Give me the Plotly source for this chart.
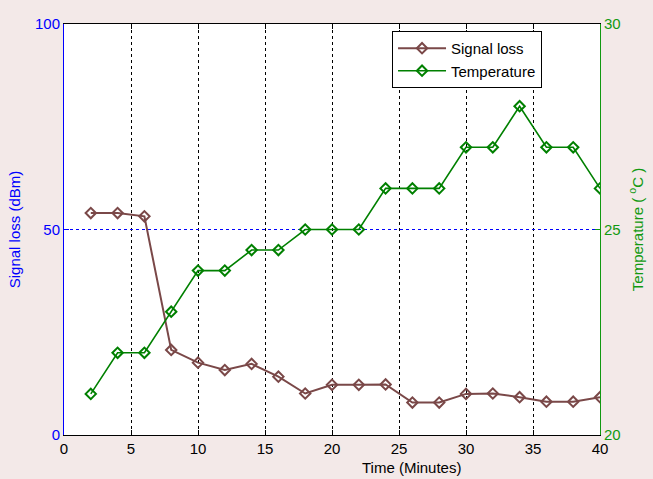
import plotly.graph_objects as go

# Sampling times (minutes)
time_min = [2, 4, 6, 8, 10, 12, 14, 16, 18, 20, 22, 24, 26, 28, 30, 32, 34, 36, 38, 40]

# Signal loss (dBm), left axis
signal_loss = [54.0, 54.0, 53.2, 20.7, 17.6, 15.8, 17.3, 14.2, 10.1, 12.2,
               12.2, 12.3, 7.9, 7.9, 10.0, 10.1, 9.2, 8.1, 8.1, 9.2]

# Temperature (deg C), right axis
temperature = [21, 22, 22, 23, 24, 24, 24.5, 24.5, 25, 25,
               25, 26, 26, 26, 27, 27, 28, 27, 27, 26]

x_ticks = [0, 5, 10, 15, 20, 25, 30, 35, 40]
left_ticks = [0, 50, 100]
right_ticks = [20, 25, 30]

LOSS_COLOR = "#7a4848"
TEMP_COLOR = "#008000"
LEFT_AXIS = "#0000ff"
RIGHT_AXIS = "#119911"
FONT = "Liberation Sans, Arial, sans-serif"
FS = 15

fig = go.Figure()

fig.add_trace(go.Scatter(
    x=time_min, y=signal_loss, name="Signal loss",
    mode="lines+markers",
    line=dict(color=LOSS_COLOR, width=2),
    marker=dict(symbol="diamond-open", size=8, color=LOSS_COLOR,
                line=dict(width=2, color=LOSS_COLOR)),
    yaxis="y",
))

fig.add_trace(go.Scatter(
    x=time_min, y=temperature, name="Temperature",
    mode="lines+markers",
    line=dict(color=TEMP_COLOR, width=1.6),
    marker=dict(symbol="diamond-open", size=8, color=TEMP_COLOR,
                line=dict(width=2, color=TEMP_COLOR)),
    yaxis="y2",
))

fig.update_layout(
    width=653, height=479,
    margin=dict(l=64, r=53, t=24, b=44),
    paper_bgcolor="#f3e9e8",
    plot_bgcolor="#ffffff",
    font=dict(family=FONT, size=FS, color="#000000"),
    showlegend=True,
    legend=dict(
        x=0.612, y=0.983, xanchor="left", yanchor="top",
        bgcolor="#ffffff", bordercolor="#000000", borderwidth=1,
        font=dict(family=FONT, size=FS, color="#000000"),
        tracegroupgap=0, itemwidth=48,
    ),
    xaxis=dict(
        range=[0, 40], tickvals=x_ticks, automargin=False,
        showline=True, linecolor="#000000", linewidth=1, mirror="ticks",
        ticks="inside", ticklen=5, tickcolor="#000000",
        showgrid=True, gridcolor="#000000", gridwidth=1, griddash="3px,3px",
        zeroline=False,
        tickfont=dict(family=FONT, size=FS, color="#000000"),
    ),
    yaxis=dict(
        range=[0, 100], tickvals=left_ticks, automargin=False,
        showline=True, linecolor=LEFT_AXIS, linewidth=1,
        ticks="inside", ticklen=5, tickcolor=LEFT_AXIS,
        showgrid=True, gridcolor=LEFT_AXIS, gridwidth=1, griddash="3px,3px",
        zeroline=False,
        tickfont=dict(family=FONT, size=FS, color=LEFT_AXIS),
        title=dict(text="Signal loss (dBm)", standoff=10,
                   font=dict(family=FONT, size=FS, color=LEFT_AXIS)),
    ),
    yaxis2=dict(
        range=[20, 30], tickvals=right_ticks, automargin=False,
        overlaying="y", side="right", anchor="x",
        showline=True, linecolor=RIGHT_AXIS, linewidth=1,
        ticks="inside", ticklen=5, tickcolor=RIGHT_AXIS,
        showgrid=False, zeroline=False,
        tickfont=dict(family=FONT, size=FS, color=RIGHT_AXIS),
        title=dict(text="Temperature ( <sup>o</sup>C )", standoff=12,
                   font=dict(family=FONT, size=FS, color=RIGHT_AXIS)),
    ),
    annotations=[dict(
        text="Time (Minutes)", xref="paper", yref="paper",
        x=0.649, y=0, yshift=-22, xanchor="center", yanchor="top",
        showarrow=False, font=dict(family=FONT, size=FS, color="#000000"),
    )],
)

fig.write_html("out.html")
